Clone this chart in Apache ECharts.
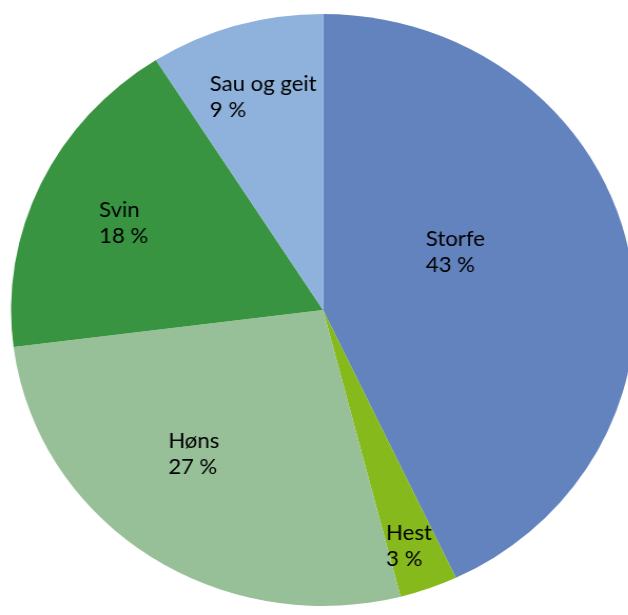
<!DOCTYPE html>
<html>
<head>
<meta charset="utf-8">
<script src="https://cdn.jsdelivr.net/npm/echarts@6/dist/echarts.min.js"></script>
<style>
html,body{margin:0;padding:0;background:#fff;overflow:hidden;width:628px;height:615px;}
#wrap{width:628px;height:615px;overflow:hidden;position:relative;}
#chart{width:596px;height:615px;transform:scaleX(1.054);transform-origin:0 0;}
</style>
</head>
<body>
<div id="wrap"><div id="chart"></div></div>
<script>
// Data
const categories = ['Storfe', 'Hest', 'Høns', 'Svin', 'Sau og geit'];
const shares = [43, 3, 27, 18, 9];
const colors = ['#6383BE', '#85B91C', '#98C098', '#389441', '#8EB2DC'];
// label offsets (layout only)
const labelOffsets = [[-49.8, -51], [8.7, 68.4], [-62, -6.4], [-75.8, -48], [-65.3, -93.6]];

const chart = echarts.init(document.getElementById('chart'), null, {renderer: 'canvas'});
chart.setOption({
  animation: false,
  series: [{
    type: 'pie',
    center: [306.5, 310],
    radius: [0, 296],
    startAngle: 90,
    clockwise: true,
    avoidLabelOverlap: false,
    itemStyle: {borderWidth: 0},
    label: {
      show: true,
      position: 'inside',
      formatter: p => p.name + '\n' + p.value + ' %',
      color: '#000',
      fontFamily: 'Lato',
      fontSize: 21,
      lineHeight: 26
    },
    labelLine: {show: false},
    emphasis: {disabled: true},
    labelLayout: function (params) {
      const o = labelOffsets[params.dataIndex];
      return {align: 'left', verticalAlign: 'top', dx: o[0], dy: o[1]};
    },
    data: categories.map((c, i) => ({name: c, value: shares[i], itemStyle: {color: colors[i]}}))
  }]
});
</script>
</body>
</html>
